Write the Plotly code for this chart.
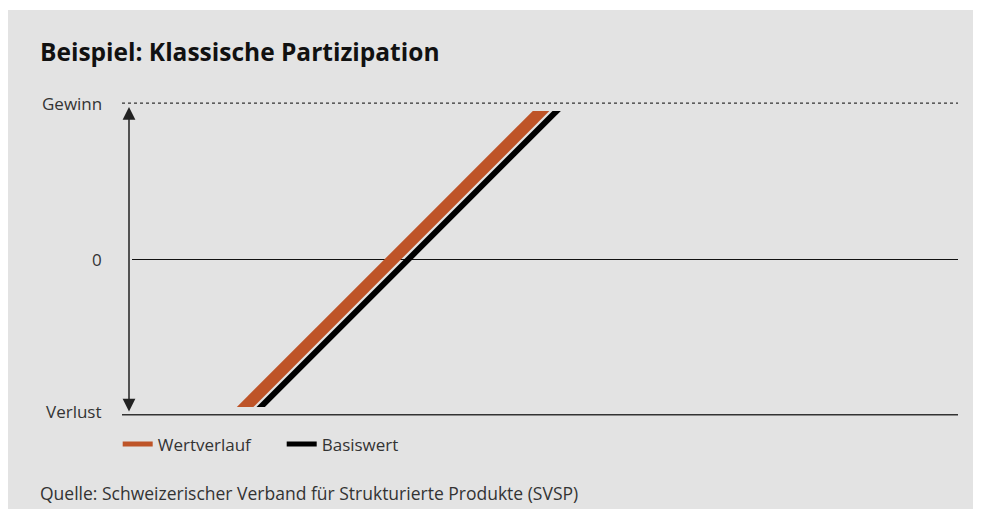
import plotly.graph_objects as go

# ---- data ----
series_names = ["Wertverlauf", "Basiswert"]
basiswert_x = [-1.2, 1.2]
basiswert_y = [-1.2, 1.2]
wertverlauf_x = [-1.2, 1.2]
wertverlauf_y = [-1.1, 1.3]
level_labels = ["Gewinn", "0", "Verlust"]
level_values = [1.0, 0.0, -1.0]

title_text = "Beispiel: Klassische Partizipation"
source_text = "Quelle: Schweizerischer Verband für Strukturierte Produkte (SVSP)"

W, H = 973, 501
ML, MR, MT, MB = 124, 23, 103, 102
PW, PH = W - ML - MR, H - MT - MB
YR = [-0.95, 0.95]
XR = [-1.776, 3.526]

ORANGE = "#BE5428"
TXT = "#333333"
BG = "#e3e3e3"
FONT = "Open Sans"


def px_x(p):
    return (p - ML) / PW


def px_y(p):
    return (H - MB - p) / PH


def val_y(v):
    return (v - YR[0]) / (YR[1] - YR[0])


fig = go.Figure()
fig.add_trace(go.Scatter(x=wertverlauf_x, y=wertverlauf_y, mode="lines",
                         line=dict(color=ORANGE, width=11.7), showlegend=False,
                         hoverinfo="skip"))
fig.add_trace(go.Scatter(x=basiswert_x, y=basiswert_y, mode="lines",
                         line=dict(color="#000000", width=5.9), showlegend=False,
                         hoverinfo="skip"))
# legend entries
fig.add_trace(go.Scatter(x=[None], y=[None], mode="lines", name=series_names[0],
                         line=dict(color=ORANGE, width=6)))
fig.add_trace(go.Scatter(x=[None], y=[None], mode="lines", name=series_names[1],
                         line=dict(color="#000000", width=6)))

shapes = [
    dict(type="rect", xref="paper", yref="paper", x0=px_x(-5), x1=px_x(W + 5),
         y0=px_y(2), y1=px_y(-5), fillcolor="#ffffff", line=dict(width=0), layer="below"),
    dict(type="line", xref="paper", yref="paper", x0=px_x(114), x1=1,
         y0=val_y(level_values[0]), y1=val_y(level_values[0]),
         line=dict(color=TXT, width=1.2, dash="dot")),
    dict(type="line", xref="paper", yref="paper", x0=px_x(114), x1=1,
         y0=val_y(level_values[2]), y1=val_y(level_values[2]),
         line=dict(color=TXT, width=1.4)),
]

annotations = []
label_offsets = [0, 0, 3]
for lab, v, off in zip(level_labels, level_values, label_offsets):
    annotations.append(dict(xref="paper", yref="paper", x=px_x(96), y=val_y(v),
                            yshift=off, text=lab, showarrow=False,
                            xanchor="right", yanchor="middle",
                            font=dict(family=FONT, size=17, color=TXT)))
# double-headed arrow
annotations.append(dict(xref="paper", yref="paper", x=px_x(121), y=px_y(99),
                        ax=0, ay=306, text="", showarrow=True, arrowside="end+start",
                        arrowhead=2, startarrowhead=2, arrowsize=1.7, startarrowsize=1.7,
                        arrowwidth=1.5, arrowcolor="#222222"))
annotations.append(dict(xref="paper", yref="paper", x=px_x(30), y=px_y(43),
                        text="<b>" + title_text + "</b>", showarrow=False,
                        xanchor="left", yanchor="middle",
                        font=dict(family=FONT, size=24.5, color="#111111")))
annotations.append(dict(xref="paper", yref="paper", x=px_x(30), y=px_y(485),
                        text=source_text, showarrow=False,
                        xanchor="left", yanchor="middle",
                        font=dict(family=FONT, size=17.5, color=TXT)))

fig.update_layout(
    width=W, height=H,
    margin=dict(l=ML, r=MR, t=MT, b=MB, pad=0),
    paper_bgcolor=BG, plot_bgcolor=BG,
    xaxis=dict(range=XR, visible=False, fixedrange=True),
    yaxis=dict(range=YR, showticklabels=False, showgrid=False, zeroline=True,
               zerolinecolor="#111111", zerolinewidth=1.4, fixedrange=True),
    shapes=shapes, annotations=annotations,
    legend=dict(orientation="h", x=px_x(109.7), y=px_y(418.5), xanchor="left", yanchor="top",
                bgcolor="rgba(0,0,0,0)", font=dict(family=FONT, size=17, color=TXT),
                entrywidth=119, entrywidthmode="pixels", itemsizing="constant"),
    showlegend=True,
)

fig.write_html("out.html")
